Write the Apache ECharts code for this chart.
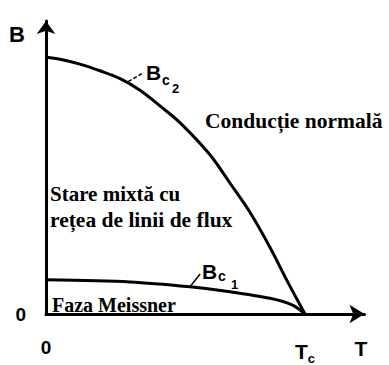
<!DOCTYPE html>
<html>
<head>
<meta charset="utf-8">
<script src="https://cdn.jsdelivr.net/npm/echarts@6/dist/echarts.min.js"></script>
<style>
  html, body { margin: 0; padding: 0; background: #fff; }
  #c { width: 389px; height: 365px; }
</style>
</head>
<body>
<div id="c"></div>
<script>
// Reduced temperature T / Tc along the upper critical field curve
const tUpper = [0, 0.054, 0.131, 0.208, 0.286, 0.363, 0.440, 0.517, 0.633, 0.710, 0.788, 0.865, 0.931, 1.0];
// Upper critical field Bc2, relative to Bc2 at T = 0
const bc2 = [1.0, 0.992, 0.973, 0.947, 0.916, 0.871, 0.810, 0.745, 0.620, 0.510, 0.395, 0.259, 0.129, 0];
// Reduced temperature along the lower critical field curve
const tLower = [0, 0.324, 0.556, 0.710, 0.865, 0.954, 1.0];
// Lower critical field Bc1, same scale
const bc1 = [0.133, 0.125, 0.106, 0.087, 0.061, 0.034, 0];
// Tick labels on the temperature and field axes
const xTickLabels = { 0: '0', 1: '{t|T}{s|c}' };
const yTickLabels = { 0: '0' };
// Region names
const regionNames = ['Conducție normală', 'Stare mixtă cu', 'rețea de linii de flux', 'Faza Meissner'];

const ink = '#000';
const serif = '"Liberation Serif", "DejaVu Serif", serif';
const sans = '"Liberation Sans", Arial, sans-serif';

const chart = echarts.init(document.getElementById('c'), null, { renderer: 'svg' });

const pair = (xs, ys) => xs.map((x, i) => [x, ys[i]]);

chart.setOption({
  animation: false,
  backgroundColor: '#fff',
  grid: { left: 46, right: 24.5, top: 21, bottom: 44, containLabel: false },
  xAxis: {
    type: 'value', min: 0, max: 1.2297, interval: 1,
    name: 'T', nameLocation: 'end', nameGap: -10,
    nameTextStyle: { color: ink, fontFamily: sans, fontWeight: 'bold', fontSize: 21,
      align: 'left', verticalAlign: 'top', padding: [24, 0, 0, 0] },
    axisLine: { show: true, lineStyle: { color: ink, width: 3 },
      symbol: ['none', 'arrow'], symbolSize: [14, 15] },
    axisTick: { show: false },
    splitLine: { show: false },
    axisLabel: {
      margin: 24, showMaxLabel: false, color: ink,
      fontFamily: sans, fontWeight: 'bold', fontSize: 19,
      formatter: v => xTickLabels[v] !== undefined ? xTickLabels[v] : '',
      rich: {
        t: { fontFamily: sans, fontWeight: 'bold', fontSize: 21, color: ink },
        s: { fontFamily: sans, fontWeight: 'bold', fontSize: 13, color: ink, padding: [14, 0, 0, 0] }
      }
    }
  },
  yAxis: {
    type: 'value', min: 0, max: 1.1407, interval: 2,
    name: 'B', nameLocation: 'end', nameGap: -24,
    nameTextStyle: { color: ink, fontFamily: sans, fontWeight: 'bold', fontSize: 22,
      align: 'right', padding: [0, 21, 0, 0] },
    axisLine: { show: true, lineStyle: { color: ink, width: 3 },
      symbol: ['none', 'arrow'], symbolSize: [14, 13] },
    axisTick: { show: false },
    splitLine: { show: false },
    axisLabel: {
      margin: 20, showMaxLabel: false, color: ink,
      fontFamily: sans, fontWeight: 'bold', fontSize: 19,
      formatter: v => yTickLabels[v] !== undefined ? yTickLabels[v] : ''
    }
  },
  series: [
    { name: 'Bc2', type: 'line', data: pair(tUpper, bc2), smooth: 0.35, showSymbol: false,
      lineStyle: { color: ink, width: 3 } },
    { name: 'Bc1', type: 'line', data: pair(tLower, bc1), smooth: 0.3, showSymbol: false,
      lineStyle: { color: ink, width: 3 } }
  ]
});

// Leader lines from each curve to its label, given in data coordinates
const toPx = p => chart.convertToPixel({ gridIndex: 0 }, p);
const lead2 = [toPx([0.317, 0.905]), toPx([0.378, 0.940])];
const lead1 = [toPx([0.556, 0.106]), toPx([0.595, 0.156])];

const txt = (x, y, text, size, font) => ({
  type: 'text', x, y,
  style: { text, fill: ink, font: 'bold ' + size + 'px ' + font, textVerticalAlign: 'middle' }
});

chart.setOption({
  graphic: [
    { type: 'line', shape: { x1: lead2[0][0], y1: lead2[0][1], x2: lead2[1][0], y2: lead2[1][1] },
      style: { stroke: ink, lineWidth: 1.5, lineDash: [4, 2] } },
    { type: 'line', shape: { x1: lead1[0][0], y1: lead1[0][1], x2: lead1[1][0], y2: lead1[1][1] },
      style: { stroke: ink, lineWidth: 1.5 } },
    txt(146, 72, 'B', 21, sans),
    txt(162, 80, 'c', 14, sans),
    txt(172, 88, '2', 13, sans),
    txt(202, 271, 'B', 21, sans),
    txt(218, 276, 'c', 14, sans),
    txt(231, 284, '1', 13, sans),
    txt(205, 121, regionNames[0], 21.5, serif),
    txt(50, 194, regionNames[1], 21, serif),
    txt(50, 220, regionNames[2], 21.5, serif),
    txt(52, 305, regionNames[3], 20, serif)
  ]
});
</script>
</body>
</html>
